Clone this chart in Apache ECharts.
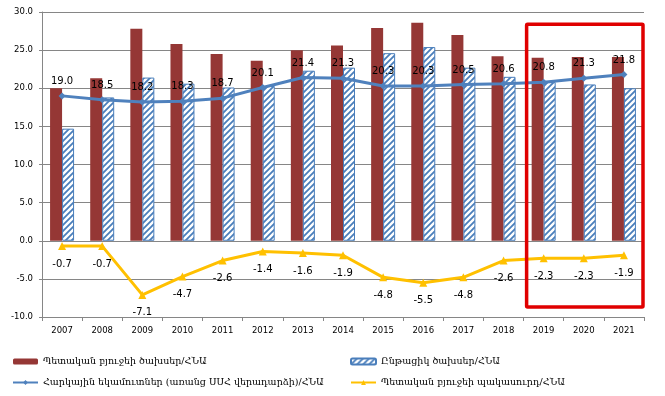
<!DOCTYPE html>
<html>
<head>
<meta charset="utf-8">
<script src="https://cdn.jsdelivr.net/npm/echarts@6/dist/echarts.min.js"></script>
<style>
html,body{margin:0;padding:0;background:#fff;}
#chart{width:665px;height:396px;}
</style>
</head>
<body>
<div id="chart"></div>
<script>
var years = ['2007','2008','2009','2010','2011','2012','2013','2014','2015','2016','2017','2018','2019','2020','2021'];
var spending = [20.0, 21.3, 27.8, 25.8, 24.5, 23.6, 25.0, 25.6, 27.9, 28.6, 27.0, 24.2, 24.0, 24.1, 24.1];
var current = [14.7, 18.8, 21.4, 20.6, 20.1, 20.3, 22.3, 22.7, 24.6, 25.4, 22.7, 21.5, 20.8, 20.5, 20.0];
var taxes = [19.0, 18.5, 18.2, 18.3, 18.7, 20.1, 21.4, 21.3, 20.3, 20.3, 20.5, 20.6, 20.8, 21.3, 21.8];
var deficit = [-0.7, -0.7, -7.1, -4.7, -2.6, -1.4, -1.6, -1.9, -4.8, -5.5, -4.8, -2.6, -2.3, -2.3, -1.9];
var names = [
  'Պետական բյուջեի ծախսեր/ՀՆԱ',
  'Ընթացիկ ծախսեր/ՀՆԱ',
  'Հարկային եկամուտներ (առանց ՍՍՀ վերադարձի)/ՀՆԱ',
  'Պետական բյուջեի պակասուրդ/ՀՆԱ'
];
// highlighted forecast years
var boxFrom = '2019', boxTo = '2021';

// hatch fill for the current spending bars
var hatch = document.createElement('canvas');
hatch.width = 6; hatch.height = 6;
var ctx = hatch.getContext('2d');
ctx.fillStyle = '#fff';
ctx.fillRect(0, 0, 6, 6);
ctx.strokeStyle = '#4a7ebb';
ctx.lineWidth = 1.8;
ctx.beginPath();
ctx.moveTo(0, 6); ctx.lineTo(6, 0);
ctx.moveTo(-3, 3); ctx.lineTo(3, -3);
ctx.moveTo(3, 9); ctx.lineTo(9, 3);
ctx.stroke();

var chart = echarts.init(document.getElementById('chart'));
var axisFont = {fontFamily: 'DejaVu Sans', fontSize: 8.5, color: '#000'};
var labelFont = {fontFamily: 'DejaVu Sans', fontSize: 10, color: '#000'};
var legendText = {fontFamily: 'DejaVu Serif', fontSize: 9.5, color: '#000', lineHeight: 13};

var option = {
  animation: false,
  grid: {left: 42, right: 21, top: 12, bottom: 79},
  legend: [{
    left: 12, top: 355, orient: 'vertical', itemGap: 8, padding: 0,
    itemWidth: 25, itemHeight: 6,
    textStyle: legendText,
    data: [names[0], names[2]]
  }, {
    left: 350, top: 355, orient: 'vertical', itemGap: 8, padding: 0,
    itemWidth: 25, itemHeight: 6,
    textStyle: legendText,
    data: [names[1], names[3]]
  }],
  xAxis: [{
    type: 'category',
    data: years,
    axisLine: {show: false},
    axisTick: {show: false},
    axisLabel: Object.assign({margin: 9}, axisFont)
  }, {
    type: 'category',
    data: years,
    position: 'bottom',
    axisLine: {show: true, onZero: true, lineStyle: {color: '#868686'}},
    axisTick: {show: true, length: 4, lineStyle: {color: '#868686'}},
    axisLabel: {show: false}
  }],
  yAxis: {
    type: 'value',
    min: -10, max: 30, interval: 5,
    axisLine: {show: true, lineStyle: {color: '#868686'}},
    axisTick: {show: true, length: 3, lineStyle: {color: '#868686'}},
    axisLabel: Object.assign({margin: 9, formatter: function (v) { return v.toFixed(1); }}, axisFont),
    splitLine: {lineStyle: {color: '#868686'}}
  },
  series: [{
    name: names[0],
    type: 'bar',
    data: spending,
    barWidth: 12,
    barGap: '0%',
    itemStyle: {color: '#953735'}
  }, {
    name: names[1],
    type: 'bar',
    data: current,
    barWidth: 12,
    barGap: '0%',
    itemStyle: {color: {image: hatch, repeat: 'repeat'}, borderColor: '#4a7ebb', borderWidth: 1}
  }, {
    name: names[2],
    type: 'line',
    data: taxes,
    symbol: 'diamond',
    symbolSize: 7,
    lineStyle: {color: '#4f81bd', width: 3},
    itemStyle: {color: '#4f81bd'},
    label: Object.assign({show: true, position: 'top', distance: 6, formatter: function (p) { return p.value.toFixed(1); }}, labelFont),
    z: 5
  }, {
    name: names[3],
    type: 'line',
    data: deficit,
    symbol: 'triangle',
    symbolSize: 8,
    lineStyle: {color: '#ffc000', width: 3},
    itemStyle: {color: '#ffc000'},
    label: Object.assign({show: true, position: 'bottom', distance: 9, formatter: function (p) { return p.value.toFixed(1); }}, labelFont),
    z: 5
  }]
};
chart.setOption(option);

// red frame round the last three years, placed from the axis scales
var x0 = chart.convertToPixel({xAxisIndex: 0}, boxFrom);
var x1 = chart.convertToPixel({xAxisIndex: 0}, boxTo);
var half = (x1 - x0) / 4;
var yTop = chart.convertToPixel({yAxisIndex: 0}, 28.4);
var yBot = chart.convertToPixel({yAxisIndex: 0}, -8.7);
chart.setOption({
  graphic: [{
    type: 'rect',
    silent: true,
    z: 10,
    shape: {x: x0 - half * 0.85, y: yTop, width: (x1 - x0) + half * 1.8, height: yBot - yTop, r: 1},
    style: {fill: 'none', stroke: '#e00000', lineWidth: 3.5}
  }]
});
</script>
</body>
</html>
